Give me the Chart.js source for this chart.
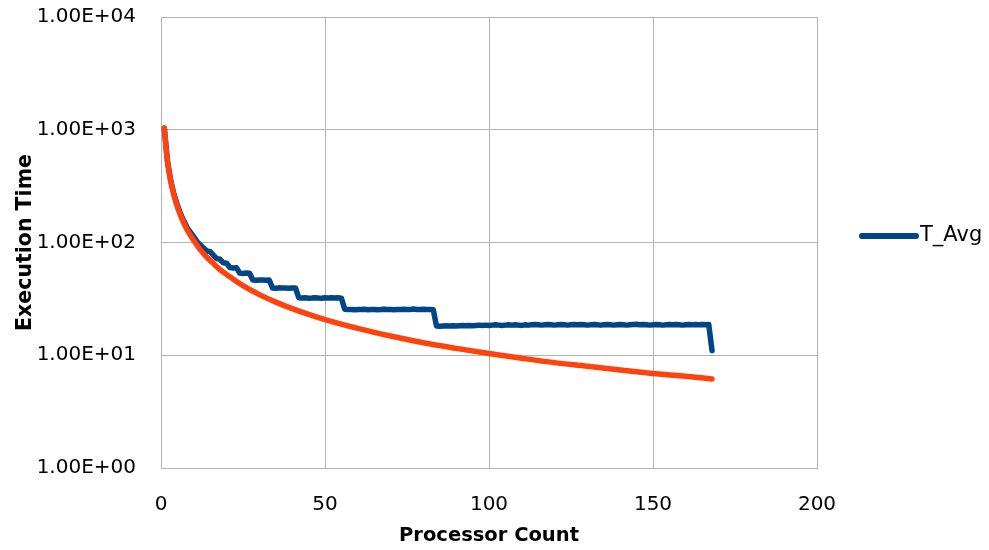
<!DOCTYPE html>
<html>
<head>
<meta charset="utf-8">
<script src="https://cdn.jsdelivr.net/npm/chart.js@4/dist/chart.umd.min.js"></script>
<style>
  html, body { margin: 0; padding: 0; background: #ffffff; }
  #wrap { width: 989px; height: 550px; }
</style>
</head>
<body>
<div id="wrap"><canvas id="chart" width="989" height="550"></canvas></div>
<script>
// Processor counts used in the scaling run
const procCount = [
  1, 2, 3, 4, 5, 6, 7, 8, 9, 10, 11, 12, 13, 14, 15, 16, 17, 18, 19, 20,
  21, 22, 23, 24, 25, 26, 27, 28, 29, 30, 31, 32, 33, 34, 35, 36, 37, 38, 39, 40,
  41, 42, 43, 44, 45, 46, 47, 48, 49, 50, 51, 52, 53, 54, 55, 56, 57, 58, 59, 60,
  61, 62, 63, 64, 65, 66, 67, 68, 69, 70, 71, 72, 73, 74, 75, 76, 77, 78, 79, 80,
  81, 82, 83, 84, 85, 86, 87, 88, 89, 90, 91, 92, 93, 94, 95, 96, 97, 98, 99, 100,
  101, 102, 103, 104, 105, 106, 107, 108, 109, 110, 111, 112, 113, 114, 115, 116, 117, 118, 119, 120,
  121, 122, 123, 124, 125, 126, 127, 128, 129, 130, 131, 132, 133, 134, 135, 136, 137, 138, 139, 140,
  141, 142, 143, 144, 145, 146, 147, 148, 149, 150, 151, 152, 153, 154, 155, 156, 157, 158, 159, 160,
  161, 162, 163, 164, 165, 166, 167, 168
];

// Measured average execution time for each processor count
const tAvg = [
  1030, 520, 350, 265, 214, 178, 154, 135, 123, 112, 102, 95, 89, 84, 83, 77, 72, 71, 66, 65.5,
  60, 59.5, 59.8, 53.5, 53.2, 53.6, 53.3,
  46.5, 46.3, 46.6, 46.4, 46.2, 46.5,
  39.5, 39.3, 39.6, 39.4, 39.5, 39.2, 39.4, 39.5,
  32.4, 32.2, 32.3, 32.1, 32.2, 32.4, 32.2, 32.1, 32.3, 32.2, 32.4, 32.2, 32.3, 32.1,
  25.6, 25.4, 25.5, 25.3, 25.5, 25.4, 25.6, 25.3, 25.4, 25.5, 25.3, 25.4, 25.6, 25.4,
  25.5, 25.3, 25.4, 25.5, 25.6, 25.4, 25.5, 25.7, 25.5, 25.4, 25.6, 25.5, 25.4, 25.3,
  18.2, 18.1, 18.2, 18.3, 18.2, 18.3, 18.2, 18.3, 18.4, 18.3, 18.4, 18.3, 18.4, 18.5, 18.4, 18.5,
  18.4, 18.5, 18.6, 18.5, 18.4, 18.5, 18.6, 18.5, 18.6, 18.5, 18.4, 18.6, 18.5, 18.6, 18.7, 18.6,
  18.5, 18.6, 18.7, 18.6, 18.5, 18.6, 18.7, 18.6, 18.5, 18.6, 18.7, 18.6, 18.7, 18.6, 18.5, 18.6,
  18.7, 18.6, 18.5, 18.6, 18.7, 18.6, 18.5, 18.6, 18.7, 18.6, 18.5, 18.6, 18.7, 18.8, 18.6, 18.7,
  18.6, 18.5, 18.6, 18.7, 18.6, 18.5, 18.6, 18.7, 18.6, 18.7, 18.6, 18.5, 18.6, 18.7, 18.6, 18.7,
  18.6, 18.7, 18.6, 18.7,
  11
];

// Ideal (linear speed-up) reference curve
const idealProc = [1, 2, 3, 4, 5, 6, 7, 8, 10, 12, 14, 16, 18, 20, 25, 30, 35, 40, 45, 50,
  60, 70, 80, 90, 100, 110, 120, 130, 140, 150, 160, 168];
const idealTime = [1035, 518, 345, 259, 207, 173, 148, 129, 104, 86, 74, 65, 57.5, 52, 41.4, 34.5, 29.6, 25.9, 23, 20.7,
  17.3, 14.8, 12.9, 11.5, 10.35, 9.4, 8.6, 8.0, 7.4, 6.9, 6.5, 6.16];

const yTickValues = [1, 10, 100, 1000, 10000];
const xTickValues = [0, 50, 100, 150, 200];

const seriesName = 'T_Avg';
const xTitle = 'Processor Count';
const yTitle = 'Execution Time';

const BLUE = '#004586';
const ORANGE = '#ff420e';
const GRID = '#b3b3b3';
const TEXT = '#000000';
const FONT = "'DejaVu Sans', 'Liberation Sans', sans-serif";

function sci(v) {
  const [m, e] = Number(v).toExponential(2).split('e');
  const n = parseInt(e, 10);
  const sign = n < 0 ? '-' : '+';
  return m + 'E' + sign + String(Math.abs(n)).padStart(2, '0');
}

// Single-entry legend drawn to the right of the plot area
const sideLegend = {
  id: 'sideLegend',
  afterDraw(chart) {
    const { ctx, chartArea } = chart;
    const ds = chart.data.datasets.find(d => d.label === seriesName);
    const y = 236;
    const x0 = chartArea.right + 45;
    const x1 = x0 + 54;
    ctx.save();
    ctx.strokeStyle = ds.borderColor;
    ctx.lineWidth = 6;
    ctx.lineCap = 'round';
    ctx.beginPath();
    ctx.moveTo(x0, y);
    ctx.lineTo(x1, y);
    ctx.stroke();
    ctx.fillStyle = TEXT;
    ctx.font = '21px ' + FONT;
    ctx.textAlign = 'left';
    ctx.textBaseline = 'middle';
    ctx.fillText(ds.label, x1 + 4, y);
    ctx.restore();
  }
};

const ctx = document.getElementById('chart').getContext('2d');
new Chart(ctx, {
  type: 'line',
  data: {
    datasets: [
      {
        label: 'Ideal',
        data: idealProc.map((p, i) => ({ x: p, y: idealTime[i] })),
        borderColor: ORANGE,
        backgroundColor: ORANGE,
        borderWidth: 5.5,
        borderCapStyle: 'round',
        borderJoinStyle: 'round',
        cubicInterpolationMode: 'monotone',
        pointRadius: 0,
        fill: false,
        order: 0
      },
      {
        label: seriesName,
        data: procCount.map((p, i) => ({ x: p, y: tAvg[i] })),
        borderColor: BLUE,
        backgroundColor: BLUE,
        borderWidth: 5.5,
        borderCapStyle: 'round',
        borderJoinStyle: 'round',
        pointRadius: 0,
        fill: false,
        order: 1
      }
    ]
  },
  options: {
    responsive: false,
    animation: false,
    devicePixelRatio: 1,
    layout: { padding: { top: 17, right: 172, left: 0, bottom: 0 } },
    plugins: {
      tooltip: { enabled: false },
      legend: { display: false }
    },
    scales: {
      x: {
        type: 'linear',
        min: 0,
        max: 200,
        afterBuildTicks: (s) => { s.ticks = xTickValues.map(v => ({ value: v })); },
        afterFit: (s) => { s.height = 82; s.paddingLeft = 0; s.paddingRight = 0; },
        grid: { color: GRID, lineWidth: 1, drawTicks: false },
        border: { color: GRID, width: 1 },
        ticks: {
          padding: 25,
          color: TEXT,
          maxRotation: 0,
          font: { family: FONT, size: 20 }
        },
        title: {
          display: true,
          text: xTitle,
          color: TEXT,
          padding: { top: 0, bottom: 2 },
          font: { family: FONT, size: 19.5, weight: 'bold' }
        }
      },
      y: {
        type: 'logarithmic',
        min: 1,
        max: 10000,
        afterBuildTicks: (s) => { s.ticks = yTickValues.map(v => ({ value: v })); },
        afterFit: (s) => { s.width = 161; s.paddingTop = 0; s.paddingBottom = 0; },
        grid: { color: GRID, lineWidth: 1, drawTicks: false },
        border: { color: GRID, width: 1 },
        ticks: {
          padding: 25,
          color: TEXT,
          callback: (v) => sci(v),
          font: { family: FONT, size: 20 }
        },
        title: {
          display: true,
          text: yTitle,
          color: TEXT,
          padding: { top: 13, bottom: 0 },
          font: { family: FONT, size: 20.5, weight: 'bold' }
        }
      }
    }
  },
  plugins: [sideLegend]
});
</script>
</body>
</html>
